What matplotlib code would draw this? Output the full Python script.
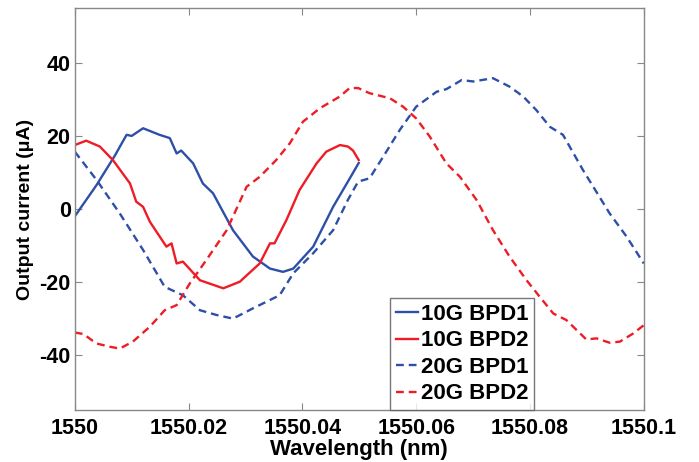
import matplotlib
matplotlib.use("Agg")
import matplotlib.pyplot as plt

plt.rcParams['font.family'] = ['Liberation Sans', 'DejaVu Sans']
plt.rcParams['font.weight'] = 'bold'
plt.rcParams['axes.unicode_minus'] = False

# 10G BPD1 (solid blue)
wl_10g_bpd1 = [1550.0, 1550.0038, 1550.0070, 1550.0091, 1550.0100, 1550.0120, 1550.0149, 1550.0167,
               1550.0179, 1550.0187, 1550.0208, 1550.0225, 1550.0243, 1550.0278, 1550.0313,
               1550.0343, 1550.0366, 1550.0384, 1550.0419, 1550.0454, 1550.0480, 1550.0499]
i_10g_bpd1 = [-2.0, 6.5, 14.5, 20.3, 20.0, 22.1, 20.3, 19.4,
              15.2, 16.0, 12.5, 7.0, 4.3, -5.8, -13.0,
              -16.3, -17.2, -16.3, -10.3, 0.6, 7.5, 12.6]

# 10G BPD2 (solid red)
wl_10g_bpd2 = [1550.0, 1550.0020, 1550.0044, 1550.0067, 1550.0097, 1550.0108, 1550.0120, 1550.0132,
               1550.0161, 1550.0170, 1550.0179, 1550.0190, 1550.0220, 1550.0261, 1550.0290,
               1550.0325, 1550.0343, 1550.0351, 1550.0372, 1550.0395, 1550.0425, 1550.0442,
               1550.0466, 1550.0480, 1550.0489, 1550.0499]
i_10g_bpd2 = [17.5, 18.7, 17.1, 13.4, 7.0, 2.0, 0.6, -3.5,
              -10.3, -9.4, -14.9, -14.4, -19.5, -21.7, -19.9,
              -14.9, -9.4, -9.4, -3.0, 5.2, 12.5, 15.7,
              17.5, 17.1, 16.0, 13.4]

# 20G BPD1 (dashed blue)
wl_20g_bpd1 = [1550.0, 1550.0038, 1550.0079, 1550.0120, 1550.0158, 1550.0190, 1550.0220, 1550.0249,
               1550.0278, 1550.0313, 1550.0360, 1550.0384, 1550.0419, 1550.0454, 1550.0480,
               1550.0498, 1550.0518, 1550.0542, 1550.0571, 1550.0600, 1550.0636, 1550.0653,
               1550.0680, 1550.0700, 1550.0735, 1550.0764, 1550.0788, 1550.0811, 1550.0835,
               1550.0858, 1550.0893, 1550.0940, 1550.0970, 1550.1000]
i_20g_bpd1 = [15.7, 8.0, -1.2, -11.2, -21.3, -23.6, -27.7, -29.0,
              -30.0, -27.2, -23.6, -17.6, -12.1, -5.8, 2.5,
              7.5, 8.4, 14.3, 21.6, 28.0, 32.1, 32.8,
              35.3, 34.9, 35.8, 33.5, 30.8, 27.1, 22.5,
              20.3, 10.7, -1.2, -7.6, -14.9]

# 20G BPD2 (dashed red)
wl_20g_bpd2 = [1550.0, 1550.0015, 1550.0038, 1550.0062, 1550.0079, 1550.0102, 1550.0132, 1550.0158,
               1550.0179, 1550.0202, 1550.0231, 1550.0267, 1550.0302, 1550.0325, 1550.0354,
               1550.0378, 1550.0401, 1550.0431, 1550.0466, 1550.0483, 1550.0498, 1550.0518,
               1550.0554, 1550.0577, 1550.0600, 1550.0624, 1550.0653, 1550.0677, 1550.0706,
               1550.0735, 1550.0764, 1550.0794, 1550.0817, 1550.0841, 1550.0864, 1550.0899,
               1550.0917, 1550.0940, 1550.0958, 1550.0981, 1550.1000]
i_20g_bpd2 = [-33.8, -34.2, -36.8, -37.7, -38.2, -36.3, -32.2, -27.7,
              -26.3, -20.4, -14.0, -5.8, 6.1, 8.8, 13.4,
              18.0, 23.9, 27.6, 30.8, 33.1, 33.1, 31.7,
              30.3, 28.0, 24.8, 19.8, 12.5, 8.8, 2.5,
              -5.8, -13.0, -19.5, -24.0, -28.6, -30.4, -35.7,
              -35.4, -36.6, -36.3, -34.1, -31.8]

labels = ['10G BPD1', '10G BPD2', '20G BPD1', '20G BPD2']
x_ticks = [1550, 1550.02, 1550.04, 1550.06, 1550.08, 1550.1]
x_tick_labels = ['1550', '1550.02', '1550.04', '1550.06', '1550.08', '1550.1']
y_ticks = [-40, -20, 0, 20, 40]
y_tick_labels = ['-40', '-20', '0', '20', '40']

blue = '#2E4FA8'
red = '#EE1C25'

fig = plt.figure(figsize=(6.99, 4.62), dpi=100)
ax = fig.add_axes([0.107, 0.1126, 0.814, 0.870])

ax.plot(wl_10g_bpd1, i_10g_bpd1, color=blue, lw=1.7, ls='-', label=labels[0])
ax.plot(wl_10g_bpd2, i_10g_bpd2, color=red, lw=1.7, ls='-', label=labels[1])
ax.plot(wl_20g_bpd1, i_20g_bpd1, color=blue, lw=1.7, ls=(0, (3.3, 2.1)), label=labels[2])
ax.plot(wl_20g_bpd2, i_20g_bpd2, color=red, lw=1.7, ls=(0, (3.3, 2.1)), label=labels[3])

ax.set_xlim(1550, 1550.1)
ax.set_ylim(-55, 55)
ax.set_xticks(x_ticks)
ax.set_xticklabels(x_tick_labels)
ax.set_yticks(y_ticks)
ax.set_yticklabels(y_tick_labels)
ax.tick_params(direction='in', top=True, right=True, length=5, color='#888888',
               labelsize=15.5)
ax.tick_params(axis='x', pad=6)
ax.tick_params(axis='y', pad=3)
for lab in ax.get_xticklabels() + ax.get_yticklabels():
    lab.set_fontweight('bold')
for sp in ax.spines.values():
    sp.set_color('#888888')
    sp.set_linewidth(1.0)

ax.set_xlabel('Wavelength (nm)', fontsize=16, fontweight='bold', labelpad=0)
ax.set_ylabel('Output current (μA)', fontsize=14, fontweight='bold', labelpad=4)

leg = ax.legend(loc='lower left', bbox_to_anchor=(0.554, 0.0),
                prop={'weight': 'bold', 'size': 16},
                handlelength=1.0, handletextpad=0.15, labelspacing=0.25,
                borderpad=0.25, borderaxespad=0.0, frameon=True, fancybox=False)
leg.get_frame().set_edgecolor('#555555')
leg.get_frame().set_linewidth(1.0)

fig.savefig('out.png', dpi=100)
